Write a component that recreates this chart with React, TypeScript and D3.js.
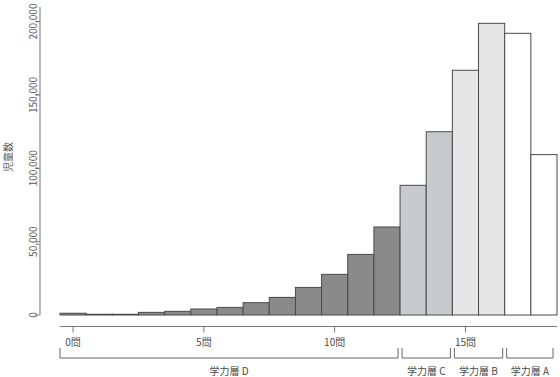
import React from "react";
import * as d3 from "d3";

const questions = d3.range(0, 19).map(String);
const counts = [1200, 500, 500, 1800, 2500, 4100, 5200, 8400, 12000, 18800, 27700, 41300, 60000, 88400, 124900, 166800, 198800, 192000, 109300];
const groupOf = ["D","D","D","D","D","D","D","D","D","D","D","D","D","C","C","B","B","A","A"];
const groups = ["D", "C", "B", "A"];
const groupLabels = ["学力層 D", "学力層 C", "学力層 B", "学力層 A"];
const groupColors = ["#8a8a8a", "#c8cacd", "#e6e6e6", "#ffffff"];
const xTicks = ["0", "5", "10", "15"];
const yTicks = [0, 50000, 100000, 150000, 200000];

const W = 560, H = 377;
const FONT = "'Noto Sans CJK JP', 'Noto Sans', sans-serif";

export default function App() {
  const x = d3.scaleBand<string>().domain(questions).range([60, 557]).padding(0);
  const y = d3.scaleLinear().domain([0, 210000]).range([315, 6.9]);
  const color = d3.scaleOrdinal<string, string>().domain(groups).range(groupColors);
  const fmt = d3.format(",");
  const axisY = 326.5;
  const brY = 358;
  return (
    <svg width={W} height={H} style={{ position: "absolute", left: 0, top: 0, background: "#fff" }} fontFamily={FONT}>
      {/* y axis */}
      <line x1={40} x2={40} y1={y(210000)} y2={y(0)} stroke="#888" strokeWidth={1.2} />
      {yTicks.map((t) => (
        <g key={t}>
          <line x1={35} x2={40} y1={y(t)} y2={y(t)} stroke="#888" />
          <text transform={`translate(37,${y(t)}) rotate(-90)`} textAnchor="middle" fontSize={10} fill="#5a5a5a">{fmt(t)}</text>
        </g>
      ))}
      <text transform={`translate(12,157) rotate(-90)`} textAnchor="middle" fontSize={10} fill="#5a5a5a">児童数</text>
      {/* bars */}
      {questions.map((q, i) => (
        <rect key={q} x={x(q)!} y={y(counts[i])} width={x.bandwidth()} height={y(0) - y(counts[i])}
          fill={color(groupOf[i])} stroke="#4a4a4a" strokeWidth={1} />
      ))}
      {/* x axis */}
      <line x1={60} x2={557} y1={axisY} y2={axisY} stroke="#777" strokeWidth={1} />
      {xTicks.map((t) => {
        const cx = x(t)! + x.bandwidth() / 2;
        return (
          <g key={t}>
            <line x1={cx} x2={cx} y1={axisY} y2={axisY + 6} stroke="#777" />
            <text x={cx} y={346} textAnchor="middle" fontSize={10} fill="#4a4a4a">{t}問</text>
          </g>
        );
      })}
      {/* group brackets */}
      {groups.map((g, gi) => {
        const idx = questions.filter((_, i) => groupOf[i] === g);
        const x0 = x(idx[0])! + (gi === 0 ? 0 : 2);
        const x1 = x(idx[idx.length - 1])! + x.bandwidth() - (gi === groups.length - 1 ? 4 : 2);
        return (
          <g key={g}>
            <path d={`M${x0},${brY - 10}V${brY}H${x1}V${brY - 10}`} fill="none" stroke="#666" strokeWidth={1} />
            <text x={(x0 + x1) / 2} y={375} textAnchor="middle" fontSize={10} fill="#4a4a4a">{groupLabels[gi]}</text>
          </g>
        );
      })}
    </svg>
  );
}
